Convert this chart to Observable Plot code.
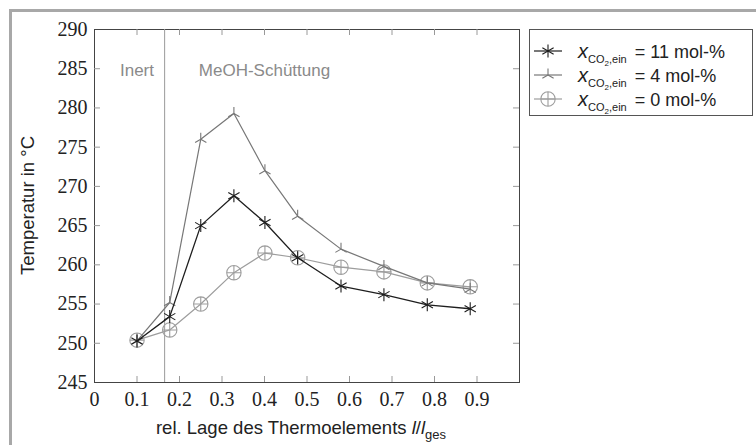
<!DOCTYPE html>
<html>
<head>
<meta charset="utf-8">
<script src="https://cdn.jsdelivr.net/npm/d3@7"></script>
<script src="https://cdn.jsdelivr.net/npm/@observablehq/plot@0.6"></script>
<style>
  body { margin: 0; background: #fff; }
  #wrap { position: relative; width: 756px; height: 445px; overflow: hidden; background: #fff; }
  #outer { position: absolute; left: 9px; top: 9px; width: 800px; height: 500px; border-left: 3px solid #a8a8a8; border-top: 3px solid #a8a8a8; }
  #chart { position: absolute; left: 0; top: 0; }
  g[aria-label="x-axis tick label"] text, g[aria-label="y-axis tick label"] text { font-family: "Liberation Serif", "DejaVu Serif", serif; font-size: 20px; fill: #222; }
  #legend { position: absolute; left: 529px; top: 29px; width: 224px; height: 87px; border: 1px solid #555; background: #fff; box-sizing: border-box; font-family: "Liberation Sans", Arial, sans-serif; color: #222; }
  .row { position: absolute; left: 0; height: 24px; width: 224px; }
  .row svg { position: absolute; left: 3px; top: 0; }
  .row .lbl { position: absolute; left: 48px; top: 0; line-height: 24px; font-size: 18px; white-space: nowrap; }
  .row .lbl i { font-size: 20px; }
  .row .lbl .sub { font-size: 11px; position: relative; top: 5px; margin-right: 3px; }
  .row .lbl .sub2 { font-size: 8px; position: relative; top: 3px; }
</style>
</head>
<body>
<div id="wrap">
  <div id="outer"></div>
  <div id="chart"></div>
  <div id="legend"></div>
</div>
<script>
// ---- data ----
const xPos = [0.1, 0.177, 0.25, 0.328, 0.401, 0.478, 0.58, 0.681, 0.783, 0.884];
const t11 = [250.3, 253.4, 265.0, 268.8, 265.4, 260.9, 257.3, 256.2, 254.9, 254.4];
const t4  = [250.3, 255.2, 276.0, 279.3, 272.0, 266.2, 262.0, 259.8, 257.7, 256.9];
const t0  = [250.4, 251.7, 255.0, 259.0, 261.5, 260.9, 259.7, 259.1, 257.7, 257.2];
const seriesNames = ["11 mol-%", "4 mol-%", "0 mol-%"];
const seriesColors = ["#1e1e1e", "#777777", "#9d9d9d"];
const xTicks = [0, 0.1, 0.2, 0.3, 0.4, 0.5, 0.6, 0.7, 0.8, 0.9];
const xTickMarks = [0.1, 0.2, 0.3, 0.4, 0.5, 0.6, 0.7, 0.8, 0.9];
const yTicks = [245, 250, 255, 260, 265, 270, 275, 280, 285, 290];
const boundaryX = 0.165;
const regionLabels = [{x: 0.1, y: 284.8, text: "Inert"}, {x: 0.4, y: 284.8, text: "MeOH-Schüttung"}];

// ---- custom marker symbols ----
const asterisk = { draw(ctx, size) {
  const r = Math.sqrt(size / Math.PI);
  for (const a of [90, 30, -30]) {
    const rad = a * Math.PI / 180, dx = r * Math.cos(rad), dy = r * Math.sin(rad);
    ctx.moveTo(-dx, -dy); ctx.lineTo(dx, dy);
  }
}};
const tri = { draw(ctx, size) {
  const r = Math.sqrt(size / Math.PI);
  const c = Math.cos(Math.PI / 6), s = Math.sin(Math.PI / 6);
  ctx.moveTo(0, 0); ctx.lineTo(0, -r);
  ctx.moveTo(0, 0); ctx.lineTo(-r * c, r * s);
  ctx.moveTo(0, 0); ctx.lineTo(r * c, r * s);
}};
const oplus = { draw(ctx, size) {
  const r = Math.sqrt(size / Math.PI);
  ctx.moveTo(r, 0); ctx.arc(0, 0, r, 0, 2 * Math.PI);
  ctx.moveTo(-r, 0); ctx.lineTo(r, 0);
  ctx.moveTo(0, -r); ctx.lineTo(0, r);
}};
const symbols = [asterisk, tri, oplus];
const radii = [6.5, 6.5, 7.2];

const seriesVals = [t11, t4, t0];
const data = [];
seriesVals.forEach((vals, i) => vals.forEach((v, j) => data.push({x: xPos[j], y: v, s: i})));

const W = 756, H = 445;
const mL = 94, mR = 237, mT = 29, mB = 63;
const xPerPx = 1 / (W - mL - mR), yPerPx = 45 / (H - mT - mB);
const tl = 6;

const marks = [
  Plot.frame({stroke: "#444", strokeWidth: 1}),
  // inner tick marks
  Plot.ruleX(xTickMarks, {x: d => d, y1: 245, y2: 245 + tl * yPerPx, stroke: "#999"}),
  Plot.ruleX(xTickMarks, {x: d => d, y1: 290, y2: 290 - tl * yPerPx, stroke: "#999"}),
  Plot.ruleY(yTicks.slice(1, -1), {y: d => d, x1: 0, x2: tl * xPerPx, stroke: "#999"}),
  Plot.ruleY(yTicks.slice(1, -1), {y: d => d, x1: 1, x2: 1 - tl * xPerPx, stroke: "#999"}),
  Plot.axisX({ticks: xTicks, tickSize: 0, tickPadding: 9, label: null, tickFormat: d => d === 0 ? "0" : d3.format(".1f")(d)}),
  Plot.axisY({ticks: yTicks, tickSize: 0, tickPadding: 7, label: null, tickFormat: d => String(d)}),
  Plot.ruleX([boundaryX], {x: d => d, y1: 245, y2: 290, stroke: "#9a9a9a", strokeWidth: 1}),
  Plot.text(regionLabels, {x: "x", y: "y", text: "text", fill: "#8a8a8a", fontSize: 17, fontFamily: "Liberation Sans, Arial, sans-serif"})
];
[2, 1, 0].forEach(i => {
  const d = data.filter(p => p.s === i);
  marks.push(Plot.line(d, {x: "x", y: "y", stroke: seriesColors[i], strokeWidth: i === 0 ? 1.3 : 1.2}));
  marks.push(Plot.dot(d, {x: "x", y: "y", symbol: symbols[i], r: radii[i], stroke: seriesColors[i], fill: "none", strokeWidth: 1.1}));
});

const chart = Plot.plot({
  width: W, height: H,
  marginLeft: mL, marginRight: mR, marginTop: mT, marginBottom: mB,
  x: {domain: [0, 1], axis: null, label: null},
  y: {domain: [245, 290], axis: null, label: null},
  style: {background: "transparent", fontFamily: "Liberation Sans, Arial, sans-serif", color: "#222"},
  marks
});
document.getElementById("chart").appendChild(chart);

// axis labels
const svg = d3.select(chart);
svg.append("text")
  .attr("transform", `translate(29, ${(mT + H - mB) / 2}) rotate(-90)`)
  .attr("text-anchor", "middle").attr("dominant-baseline", "middle")
  .style("font-family", "Liberation Sans, Arial, sans-serif").style("font-size", "18.5px").style("fill", "#222")
  .text("Temperatur in °C");
const xl = svg.append("text")
  .attr("x", 301).attr("y", 434)
  .attr("text-anchor", "middle")
  .style("font-family", "Liberation Sans, Arial, sans-serif").style("font-size", "18.5px").style("fill", "#222");
xl.append("tspan").text("rel. Lage des Thermoelements ");
xl.append("tspan").style("font-style", "italic").text("l");
xl.append("tspan").text("/");
xl.append("tspan").style("font-style", "italic").text("l");
xl.append("tspan").attr("dy", 5).style("font-size", "13px").text("ges");

// legend
const legend = document.getElementById("legend");
seriesNames.forEach((name, i) => {
  const row = document.createElement("div");
  row.className = "row";
  row.style.top = (9 + i * 24) + "px";
  const path = d3.symbol(symbols[i], radii[i] * radii[i] * Math.PI)();
  row.innerHTML = `<svg width="32" height="24"><line x1="1" y1="12" x2="29" y2="12" stroke="${seriesColors[i]}" stroke-width="1.2"/><path transform="translate(15,12)" d="${path}" fill="none" stroke="${seriesColors[i]}" stroke-width="1.1"/></svg>` +
    `<span class="lbl"><i>x</i><span class="sub">CO<span class="sub2">2</span>,ein</span> = ${name}</span>`;
  legend.appendChild(row);
});
</script>
</body>
</html>
